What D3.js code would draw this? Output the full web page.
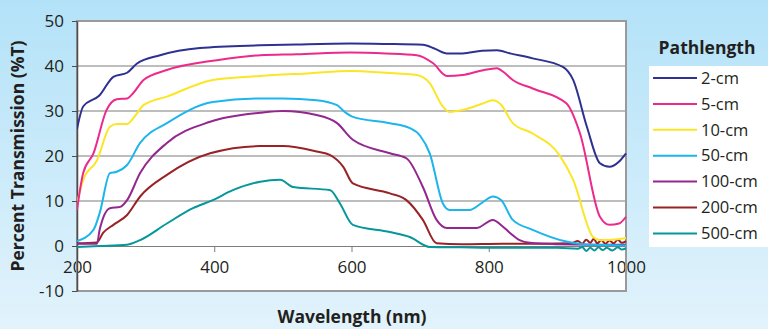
<!DOCTYPE html>
<html>
<head>
<meta charset="utf-8">
<script src="https://cdn.jsdelivr.net/npm/d3@7"></script>
<style>
  body { margin: 0; }
  svg { display: block; }
</style>
</head>
<body>
<script>
const width = 768;
const height = 329;

// series data: [wavelength nm, %T]
const cm2 = [[200,26],[209,31],[233,33.5],[253,37.6],[273,38.5],[287,40.5],[321,42.4],[379,44],[466,44.6],[520,44.8],[598,45],[650,44.9],[704,44.7],[722,43.8],[739,42.8],[762,42.8],[790,43.4],[812,43.5],[831,42.8],[864,41.7],[908,39.8],[923,36.9],[943,26.5],[962,18.4],[976,17.6],[990,18.8],[1000,20.6]];
const cm5 = [[200,8],[209,16.2],[224,20.6],[243,30.2],[258,32.6],[273,32.8],[282,34],[297,36.9],[331,39.1],[404,41.3],[467,42.4],[520,42.6],[598,43],[650,42.8],[695,42.4],[719,40.6],[739,37.8],[762,38],[790,39],[812,39.5],[822,38.6],[835,36.9],[864,35],[913,31.7],[933,25],[962,6.5],[976,4.7],[990,5],[1000,6.5]];
const cm10 = [[200,9.5],[209,14.7],[229,19],[248,26.5],[258,27.1],[273,27.1],[282,28.4],[297,31.3],[331,33.2],[398,36.9],[467,37.8],[540,38.4],[598,38.9],[650,38.5],[695,38],[714,36.2],[733,31],[743,29.8],[762,30.2],[790,31.6],[806,32.4],[818,31.4],[835,27.3],[864,25],[903,20.2],[923,14.7],[952,2],[962,1.3],[980,1.4],[1000,1.8]];
const cm50 = [[200,1.1],[224,3.6],[233,7.3],[248,16.2],[258,16.5],[273,18],[292,22.9],[331,27.3],[398,32],[467,32.8],[500,32.8],[549,32.4],[579,31.3],[590,29.8],[602,28.7],[656,27.3],[685,26.2],[700,24.5],[714,20.6],[733,9.5],[743,8],[772,8],[790,9.6],[806,11],[818,10.2],[835,5.8],[864,3.6],[913,1],[937,0.4],[970,0.2],[1000,0.1]];
const cm100 = [[200,0.5],[229,0.5],[233,3.6],[248,8.4],[263,8.7],[273,10.2],[292,16.2],[331,22.9],[394,27.6],[467,29.6],[500,30],[549,29.1],[579,27.3],[602,23.6],[656,20.6],[680,19.5],[704,13.1],[724,5.8],[739,4],[782,4],[806,5.8],[820,4.4],[831,2.9],[845,1.3],[860,0.7],[900,0.4],[950,0.3],[1000,0.3]];
const cm200 = [[200,0.6],[229,0.8],[238,2.9],[253,4.7],[273,6.9],[292,11],[331,15.8],[394,20.6],[467,22.2],[500,22.2],[549,21],[569,20.2],[588,17.6],[602,13.9],[656,11.7],[680,10.2],[704,5.8],[724,0.6],[760,0.4],[820,0.5],[880,0.5],[920,0.6],[930,1.1],[936,0.5],[942,1.4],[948,0.7],[953,1.6],[958,0.6],[964,1.3],[970,0.5],[976,1.2],[982,0.6],[988,1.4],[994,0.7],[1000,1.1]];
const cm500 = [[200,-0.2],[233,0],[273,0.3],[292,1.3],[331,5],[369,8.4],[398,10.2],[427,12.4],[467,14.3],[496,14.7],[515,13.1],[569,12.4],[583,9.5],[602,4.7],[656,3.1],[685,2],[714,-0.2],[760,-0.3],[820,-0.4],[900,-0.4],[930,-0.6],[936,-0.2],[942,-1.1],[948,-0.4],[954,-1.0],[960,-0.3],[966,-0.9],[972,-0.4],[980,-1.0],[988,-0.3],[994,-0.8],[1000,-0.5]];

const seriesNames = ["2-cm","5-cm","10-cm","50-cm","100-cm","200-cm","500-cm"];
const seriesData = [cm2, cm5, cm10, cm50, cm100, cm200, cm500];
const seriesColors = ["#2e3192","#ec2a8c","#fbe626","#1cb5ec","#93278f","#982226","#05979a"];

const xTicks = [200,400,600,800,1000];
const yTicks = [-10,0,10,20,30,40,50];

const margin = { left: 77, right: 142, top: 21, bottom: 38 };
const font = "Open Sans, sans-serif";

const svg = d3.select("body").append("svg")
  .attr("width", width)
  .attr("height", height);

// background gradient
const grad = svg.append("defs").append("linearGradient")
  .attr("id", "bg").attr("x1", 0).attr("y1", 0).attr("x2", 0).attr("y2", 1);
grad.append("stop").attr("offset", "0%").attr("stop-color", "#b3e2f8");
grad.append("stop").attr("offset", "100%").attr("stop-color", "#e2f3fc");
svg.append("rect").attr("width", width).attr("height", height).attr("fill", "url(#bg)");

const x = d3.scaleLinear().domain([200, 1000]).range([margin.left, width - margin.right]);
const y = d3.scaleLinear().domain([-10, 50]).range([height - margin.bottom, margin.top]);

// plot area
svg.append("rect")
  .attr("x", x(200)).attr("y", y(50))
  .attr("width", x(1000) - x(200)).attr("height", y(-10) - y(50))
  .attr("fill", "#fff");

// gridlines
svg.append("g")
  .selectAll("line")
  .data(yTicks.filter(d => d > 0 && d < 50))
  .enter().append("line")
  .attr("x1", x(200)).attr("x2", x(1000))
  .attr("y1", d => y(d)).attr("y2", d => y(d))
  .attr("stroke", "#7d7d7d").attr("stroke-width", 1.2);

// zero line with x axis ticks
const xAxis = svg.append("g")
  .attr("transform", `translate(0,${y(0)})`)
  .call(d3.axisBottom(x).tickValues(xTicks).tickFormat(d => String(d))
    .tickSize(6).tickSizeOuter(0).tickPadding(9));
xAxis.select(".domain").attr("stroke", "#7d7d7d").attr("stroke-width", 1.2);
xAxis.selectAll(".tick line").attr("stroke", "#7d7d7d");
xAxis.selectAll(".tick").filter(d => d === 200 || d === 1000).select("line").remove();
xAxis.selectAll("text")
  .attr("font-family", font)
  .attr("font-size", 17)
  .attr("fill", "#231f20");

// frame
svg.append("rect")
  .attr("x", x(200)).attr("y", y(50))
  .attr("width", x(1000) - x(200)).attr("height", y(-10) - y(50))
  .attr("fill", "none").attr("stroke", "#9a9a9a").attr("stroke-width", 2);

// y axis
const yAxis = svg.append("g")
  .attr("transform", `translate(${x(200)},0)`)
  .call(d3.axisLeft(y).tickValues(yTicks).tickFormat(d => String(d))
    .tickSize(5).tickSizeOuter(0).tickPadding(8));
yAxis.select(".domain").attr("stroke", "#4d4d4d").attr("stroke-width", 1.5);
yAxis.selectAll(".tick line").attr("stroke", "#4d4d4d");
yAxis.selectAll("text")
  .attr("font-family", font)
  .attr("font-size", 17)
  .attr("fill", "#231f20");

// lines
const line = d3.line()
  .x(d => x(d[0]))
  .y(d => y(d[1]))
  .curve(d3.curveMonotoneX);

svg.append("clipPath").attr("id", "clip").append("rect")
  .attr("x", x(200)).attr("y", y(50))
  .attr("width", x(1000) - x(200) + 1).attr("height", y(-10) - y(50));

svg.append("g")
  .attr("clip-path", "url(#clip)")
  .selectAll("path")
  .data(seriesData.slice().reverse())
  .enter().append("path")
  .attr("d", d => line(d))
  .attr("fill", "none")
  .attr("stroke", (d, i) => seriesColors[seriesData.length - 1 - i])
  .attr("stroke-width", 2)
  .attr("stroke-linejoin", "round");

// axis titles
svg.append("text")
  .attr("transform", `translate(24,${(y(50) + y(-10)) / 2}) rotate(-90)`)
  .attr("text-anchor", "middle")
  .attr("font-family", font)
  .attr("font-weight", "bold")
  .attr("font-size", 17.5)
  .attr("fill", "#231f20")
  .text("Percent Transmission (%T)");

svg.append("text")
  .attr("x", 352).attr("y", 323)
  .attr("text-anchor", "middle")
  .attr("font-family", font)
  .attr("font-weight", "bold")
  .attr("font-size", 17.5)
  .attr("fill", "#231f20")
  .text("Wavelength (nm)");

// legend
const legend = svg.append("g");
legend.append("text")
  .attr("x", 707).attr("y", 54)
  .attr("text-anchor", "middle")
  .attr("font-family", font)
  .attr("font-weight", "bold")
  .attr("font-size", 17.5)
  .attr("fill", "#231f20")
  .text("Pathlength");
legend.append("rect")
  .attr("x", 649).attr("y", 66).attr("width", 119).attr("height", 181)
  .attr("fill", "#fff");
const item = legend.selectAll("g.item")
  .data(seriesNames)
  .enter().append("g")
  .attr("class", "item")
  .attr("transform", (d, i) => `translate(0,${78 + i * 25.9})`);
item.append("line")
  .attr("x1", 653).attr("x2", 697)
  .attr("stroke", (d, i) => seriesColors[i])
  .attr("stroke-width", 2);
item.append("text")
  .attr("x", 701).attr("dy", "0.35em")
  .attr("font-family", font)
  .attr("font-size", 16.5)
  .attr("fill", "#231f20")
  .text(d => d);
</script>
</body>
</html>
